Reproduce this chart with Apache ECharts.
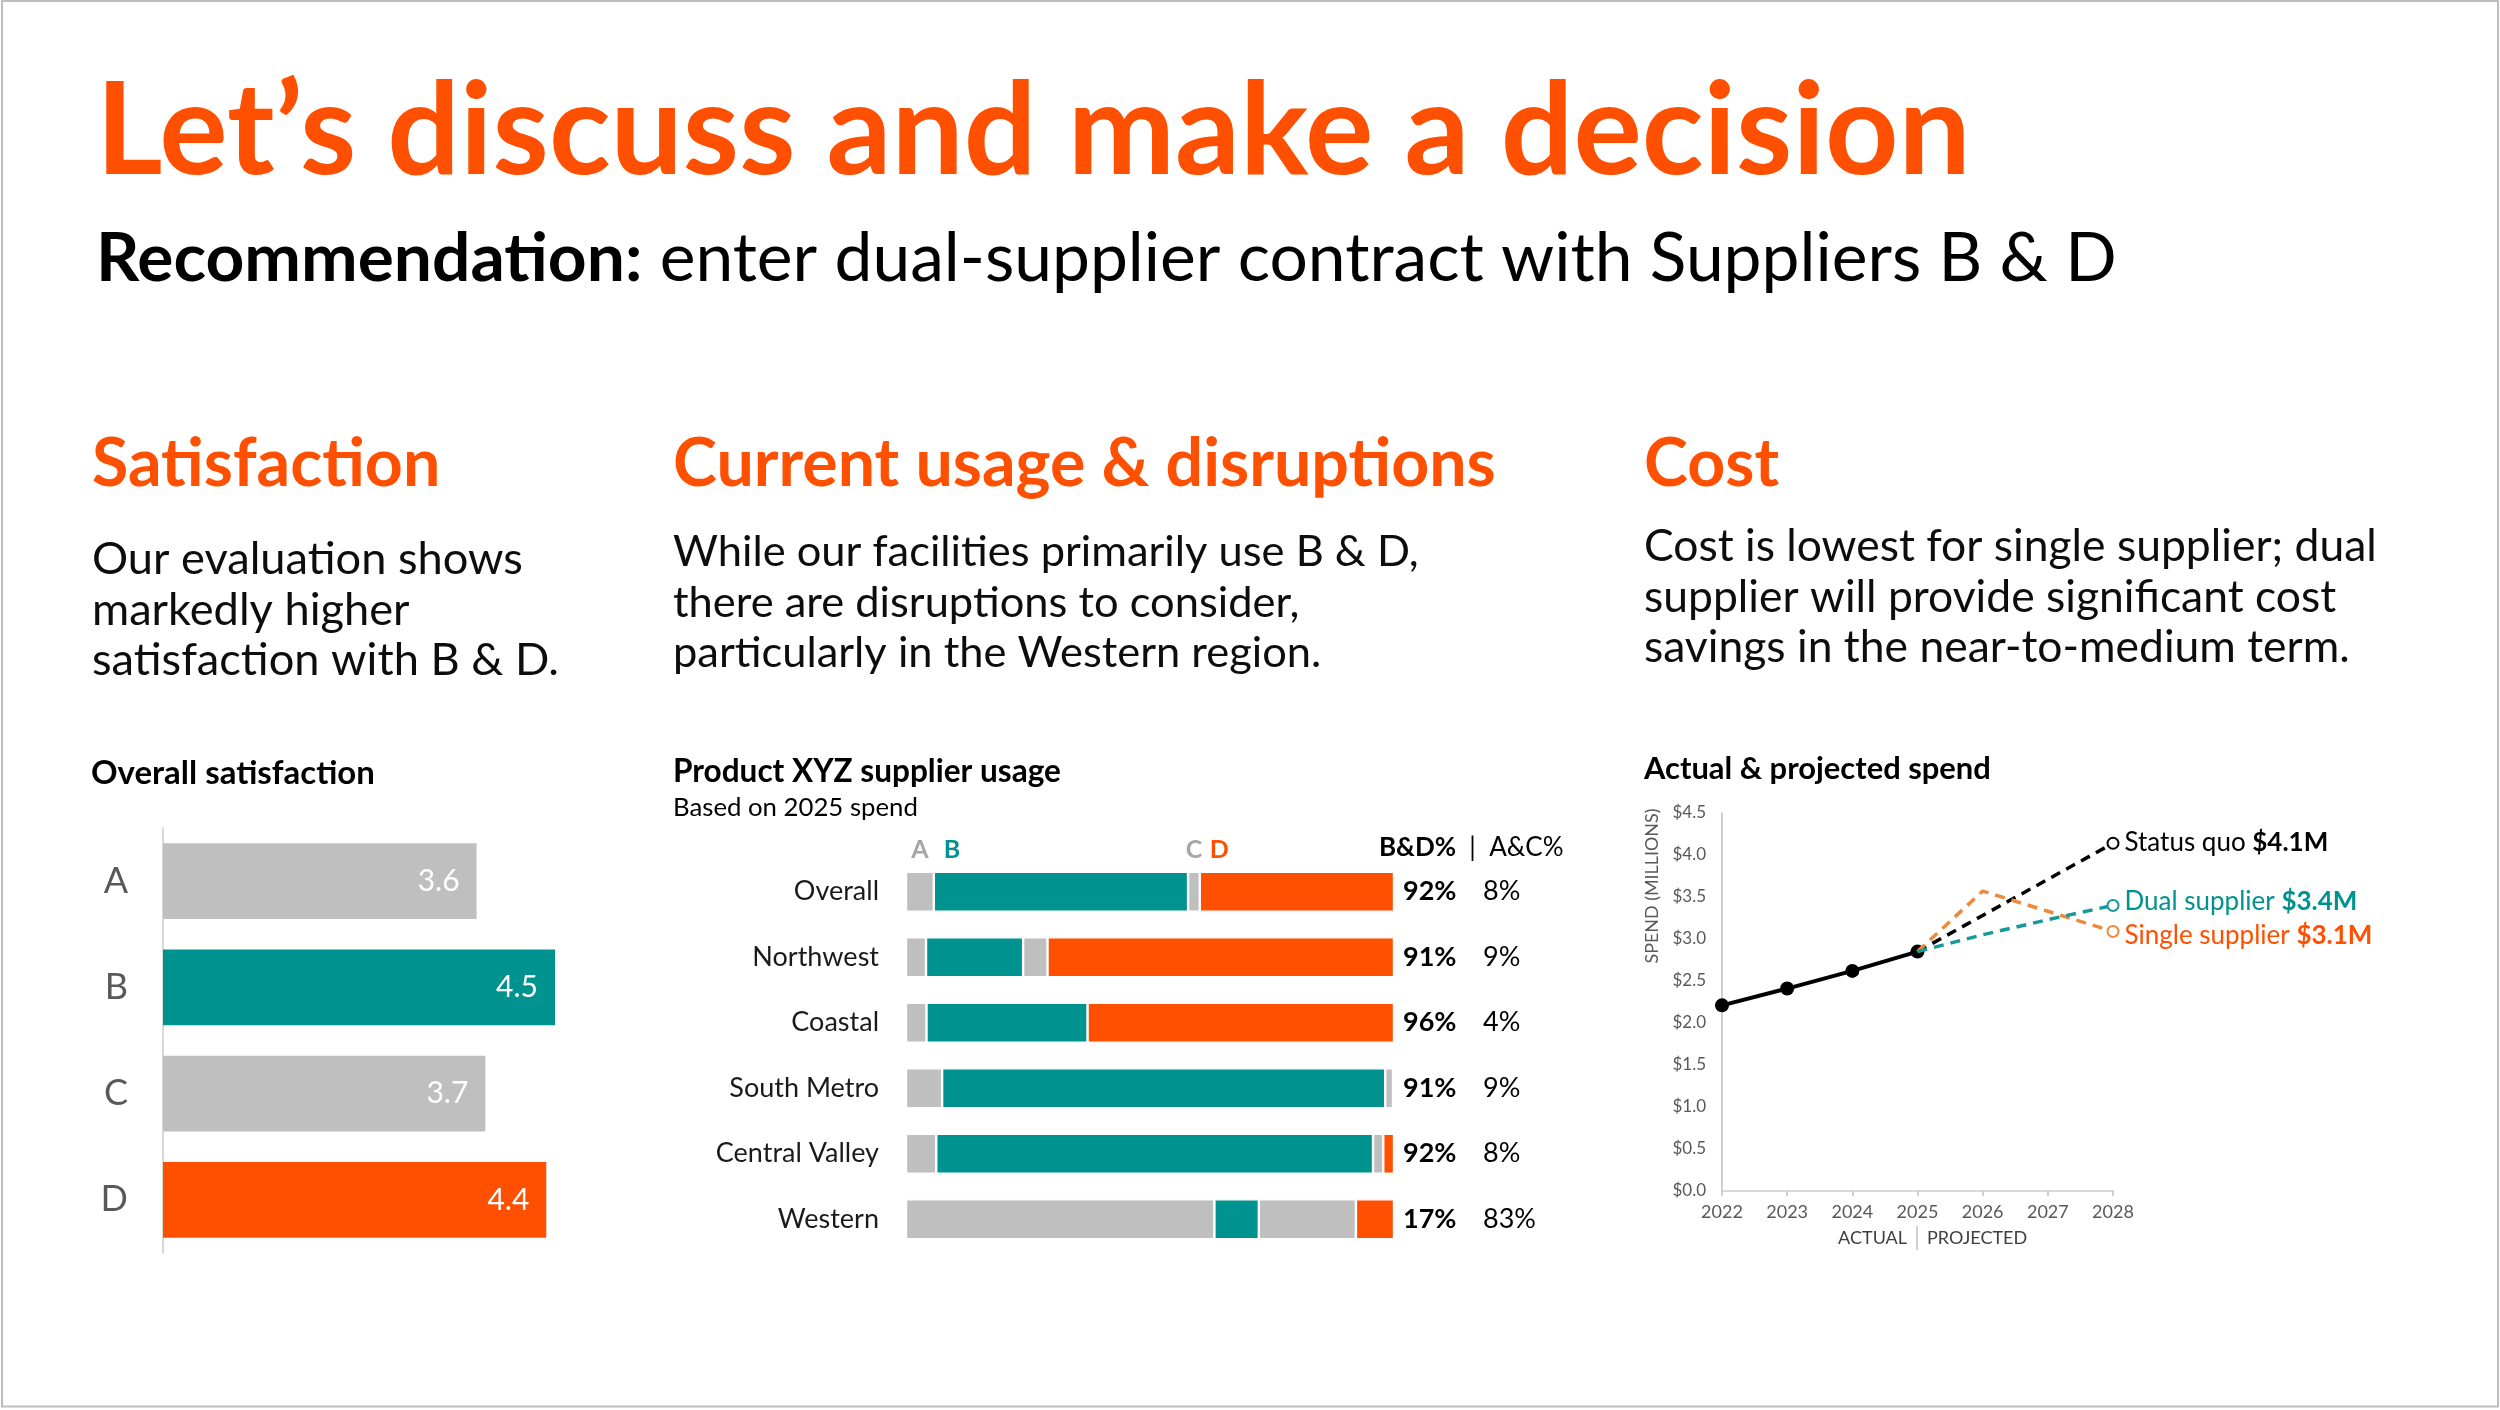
<!DOCTYPE html>
<html><head><meta charset="utf-8">
<script src="https://cdn.jsdelivr.net/npm/echarts@6/dist/echarts.min.js"></script>
<style>html,body{margin:0;padding:0;background:#fff}#c{width:2500px;height:1410px}</style>
</head><body><div id="c"></div>
<script>
// ---------------- DATA ----------------
const satCategories = ['A', 'B', 'C', 'D'];
const satValues = [3.6, 4.5, 3.7, 4.4];

const usageRegions = ['Overall', 'Northwest', 'Coastal', 'South Metro', 'Central Valley', 'Western'];
const usageA = [5.7, 4.1, 4.2, 7.4, 6.2, 63.2];
const usageB = [52.1, 19.9, 33.0, 90.8, 89.5, 9.1];
const usageC = [2.4, 5.0, 0, 1.6, 2.1, 19.9];
const usageD = [39.8, 71.0, 62.8, 0.2, 2.2, 7.8];
const bdPct = ['92%', '91%', '96%', '91%', '92%', '17%'];
const acPct = ['8%', '9%', '4%', '9%', '8%', '83%'];

const years = ['2022', '2023', '2024', '2025', '2026', '2027', '2028'];
const actualSpend = [2.21, 2.41, 2.62, 2.85, null, null, null];
const statusQuoSpend = [null, null, null, 2.85, 3.28, 3.71, 4.14];
const dualSpend = [null, null, null, 2.85, 3.05, 3.23, 3.40];
const singleSpend = [null, null, null, 2.85, 3.57, 3.33, 3.09];
const spendTickLabels = ['$0.0', '$0.5', '$1.0', '$1.5', '$2.0', '$2.5', '$3.0', '$3.5', '$4.0', '$4.5'];

// ---------------- STYLE ----------------
const FONT = 'Lato';
const ORANGE = '#FF4F00';
const TEAL = '#00928F';
const GRAY = '#BFBFBF';
const LINE_ORANGE = '#EE8A3C';
const LINE_TEAL = '#17999A';

const cv = document.createElement('canvas').getContext('2d');
function mw(text, weight, size) { cv.font = weight + ' ' + size + 'px ' + FONT; return cv.measureText(text).width; }
function fit(text, weight, target) { return target / mw(text, weight, 100) * 100; }

function txt(x, y, text, size, color, weight, extra) {
  return Object.assign({
    type: 'text', x: x, y: y, silent: true,
    style: { text: text, fontSize: size, fontFamily: FONT, fontWeight: weight || 'normal', fill: color,
      align: 'left', verticalAlign: 'middle', textAlign: 'left', textVerticalAlign: 'middle' }
  }, extra || {});
}

const graphics = [];
// page border
graphics.push({ type: 'rect', silent: true, shape: { x: 2, y: 1, width: 2496, height: 1405.5 },
  style: { fill: 'none', stroke: '#BDBDBD', lineWidth: 2 } });

// title
const titleText = 'Let\u2019s discuss and make a decision';
const titleSize = fit(titleText, 'bold', 1875);
graphics.push(txt(96, 137 - 0.03 * titleSize, titleText, titleSize, ORANGE, 'bold'));

// subtitle
const subB = 'Recommendation:', subN = ' enter dual-supplier contract with Suppliers B & D';
const subSize = 2021 / (mw(subB, 'bold', 100) + mw(subN, 'normal', 100)) * 100;
graphics.push({ type: 'text', x: 96, y: 261 - 0.03 * subSize, silent: true, style: {
  text: '{b|' + subB + '}{n|' + subN + '}', fontFamily: FONT, fontSize: subSize, fill: '#000',
  align: 'left', verticalAlign: 'middle', textAlign: 'left', textVerticalAlign: 'middle',
  rich: { b: { fontWeight: 'bold', fontSize: subSize, fontFamily: FONT, fill: '#000' },
          n: { fontWeight: 'normal', fontSize: subSize, fontFamily: FONT, fill: '#000' } } } });

// section headings
const headSize = fit('Current usage & disruptions', 'bold', 823);
[['Satisfaction', 92], ['Current usage & disruptions', 673], ['Cost', 1644]].forEach(function (h) {
  graphics.push(txt(h[1], 467 - 0.03 * headSize, h[0], headSize, ORANGE, 'bold'));
});

// body text blocks
function block(lines, x, ys, targetW) {
  const s = fit(lines[0], 'normal', targetW);
  lines.forEach(function (l, i) { graphics.push(txt(x, ys[i] + 3 - 0.03 * s, l, s, '#0D0D0D', 'normal')); });
}
block(['Our evaluation shows', 'markedly higher', 'satisfaction with B & D.'], 92, [558, 609, 659], 431);
block(['While our facilities primarily use B & D,', 'there are disruptions to consider,', 'particularly in the Western region.'], 673, [550, 601, 651], 746);
block(['Cost is lowest for single supplier; dual', 'supplier will provide significant cost', 'savings in the near-to-medium term.'], 1644, [545, 596, 646], 733);

// chart titles
graphics.push(txt(91, 773, 'Overall satisfaction', fit('Overall satisfaction', 'bold', 284), '#000', 'bold'));
graphics.push(txt(673, 772, 'Product XYZ supplier usage', fit('Product XYZ supplier usage', 'bold', 388), '#000', 'bold'));
graphics.push(txt(673, 808, 'Based on 2025 spend', fit('Based on 2025 spend', 'normal', 245), '#000', 'normal'));
graphics.push(txt(1644, 769, 'Actual & projected spend', fit('Actual & projected spend', 'bold', 347), '#000', 'bold'));

// usage header
graphics.push({ type: 'text', x: 1379, y: 848, silent: true, style: {
  text: '{b|B&D%}{s|  |  }{n|A&C%}', fontFamily: FONT, fontSize: 26,
  align: 'left', verticalAlign: 'middle', textAlign: 'left', textVerticalAlign: 'middle',
  rich: { b: { fontWeight: 'bold', fontSize: 26, fontFamily: FONT, fill: '#000' },
          s: { fontSize: 26, fontFamily: FONT, fill: '#000' },
          n: { fontSize: 26, fontFamily: FONT, fill: '#000' } } } });

// spend axis name & bottom note
const ynSize = fit('SPEND (MILLIONS)', 'normal', 155);
graphics.push({ type: 'text', x: 1652, y: 886, rotation: Math.PI / 2, silent: true, style: {
  text: 'SPEND (MILLIONS)', fontFamily: FONT, fontSize: ynSize, fill: '#595959',
  align: 'center', verticalAlign: 'middle', textAlign: 'center', textVerticalAlign: 'middle' } });
const actualNote = txt(1907, 1238, 'ACTUAL', 18, '#404040', 'normal');
actualNote.style.align = 'right'; actualNote.style.textAlign = 'right';
graphics.push(actualNote);
graphics.push({ type: 'line', silent: true, shape: { x1: 1917, y1: 1226, x2: 1917, y2: 1250 }, style: { stroke: '#BFBFBF', lineWidth: 1.5 } });
graphics.push(txt(1927, 1238, 'PROJECTED', 18, '#404040', 'normal'));

// ---------------- SERIES ----------------
const satColors = [GRAY, TEAL, GRAY, ORANGE];

function letterLabel(letter, color, pos) {
  return { show: true, formatter: letter, position: pos, distance: 9, color: color, fontWeight: 'bold', fontSize: 25, fontFamily: FONT };
}
function usageSeries(name, arr, color, letterCfg) {
  return {
    type: 'bar', name: name, stack: 'usage', xAxisIndex: 1, yAxisIndex: 1, barWidth: 40,
    itemStyle: { color: color, borderColor: '#fff', borderWidth: 1.2 },
    emphasis: { disabled: true },
    data: arr.map(function (v, i) {
      if (i === 0) return { value: v, label: letterCfg };
      return v;
    })
  };
}

function projSeries(name, arr, color, labelName, labelColor, zv, dy) {
  const last = arr.length - 1;
  return {
    type: 'line', name: name, xAxisIndex: 2, yAxisIndex: 3, z: zv,
    symbol: 'none', showSymbol: true,
    lineStyle: { color: color, width: 3.5, type: [10, 7] },
    itemStyle: { color: color },
    emphasis: { disabled: true },
    data: arr.map(function (v, i) {
      if (i !== last) return v;
      return {
        value: v, symbol: 'emptyCircle', symbolSize: 11,
        itemStyle: { color: color, borderColor: color, borderWidth: 2 },
        label: {
          show: true, position: 'right', distance: 5, offset: [0, dy],
          formatter: '{n|' + labelName + ' }{b|$' + v.toFixed(1) + 'M}',
          rich: {
            n: { color: labelColor, fontSize: 26, fontFamily: FONT },
            b: { color: labelColor, fontSize: 26, fontFamily: FONT, fontWeight: 'bold' }
          }
        }
      };
    })
  };
}

const option = {
  animation: false,
  backgroundColor: '#fff',
  textStyle: { fontFamily: FONT },
  graphic: graphics,
  grid: [
    { left: 163, top: 828, width: 392, height: 425 },
    { left: 906, top: 859, width: 488, height: 393 },
    { left: 1722, top: 813, width: 391, height: 378 }
  ],
  xAxis: [
    { gridIndex: 0, type: 'value', min: 0, max: 4.5, show: false },
    { gridIndex: 1, type: 'value', min: 0, max: 100, show: false },
    { gridIndex: 2, type: 'category', data: years, boundaryGap: false,
      axisLine: { lineStyle: { color: '#D9D9D9', width: 2 } },
      axisTick: { show: true, length: 5, lineStyle: { color: '#BFBFBF', width: 1.5 } },
      axisLabel: { fontSize: 18, color: '#595959', margin: 12, fontFamily: FONT },
      splitLine: { show: false } }
  ],
  yAxis: [
    { gridIndex: 0, type: 'category', data: satCategories, inverse: true,
      axisLine: { lineStyle: { color: '#D9D9D9', width: 2 } }, axisTick: { show: false },
      axisLabel: { fontSize: 36, color: '#595959', margin: 35, fontFamily: FONT } },
    { gridIndex: 1, type: 'category', data: usageRegions, inverse: true,
      axisLine: { show: false }, axisTick: { show: false },
      axisLabel: { fontSize: 27, color: '#1A1A1A', margin: 27, fontFamily: FONT } },
    { gridIndex: 1, type: 'category', data: usageRegions, inverse: true, position: 'right',
      axisLine: { show: false }, axisTick: { show: false },
      axisLabel: { margin: 9, align: 'left',
        formatter: function (v, i) { return '{b|' + bdPct[i] + '}{n|' + acPct[i] + '}'; },
        rich: { b: { fontSize: 27, fontWeight: 'bold', color: '#000', width: 80, fontFamily: FONT },
                n: { fontSize: 27, color: '#000', fontFamily: FONT } } } },
    { gridIndex: 2, type: 'value', min: 0, max: 4.5, interval: 0.5,
      axisLine: { show: true, lineStyle: { color: '#BFBFBF', width: 1.5 } }, axisTick: { show: false },
      splitLine: { show: false },
      axisLabel: { fontSize: 17, color: '#595959', margin: 16, fontFamily: FONT,
        formatter: function (v) { return spendTickLabels[Math.round(v / 0.5)]; } } }
  ],
  series: [
    { type: 'bar', xAxisIndex: 0, yAxisIndex: 0, barCategoryGap: '28.5%',
      emphasis: { disabled: true },
      data: satValues.map(function (v, i) { return { value: v, itemStyle: { color: satColors[i] } }; }),
      label: { show: true, position: 'insideRight', distance: 17, color: '#fff', fontSize: 30, fontFamily: FONT,
        formatter: function (p) { return p.value.toFixed(1); } } },
    usageSeries('A', usageA, GRAY, letterLabel('A', '#A6A6A6', 'top')),
    usageSeries('B', usageB, TEAL, letterLabel('B', TEAL, [10, -34])),
    usageSeries('C', usageC, GRAY, letterLabel('C', '#A6A6A6', 'top')),
    usageSeries('D', usageD, ORANGE, letterLabel('D', ORANGE, [10, -34])),
    { type: 'line', name: 'Actual', xAxisIndex: 2, yAxisIndex: 3, z: 3, data: actualSpend,
      symbol: 'circle', symbolSize: 14, lineStyle: { color: '#000', width: 4 }, itemStyle: { color: '#000' },
      emphasis: { disabled: true } },
    projSeries('Status quo', statusQuoSpend, '#000', 'Status quo', '#000', 4, -1),
    projSeries('Single supplier', singleSpend, LINE_ORANGE, 'Single supplier', ORANGE, 5, 4),
    projSeries('Dual supplier', dualSpend, LINE_TEAL, 'Dual supplier', TEAL, 6, -4)
  ]
};

const chart = echarts.init(document.getElementById('c'), null, { renderer: 'canvas', width: 2500, height: 1410 });
chart.setOption(option);
</script>
</body></html>
